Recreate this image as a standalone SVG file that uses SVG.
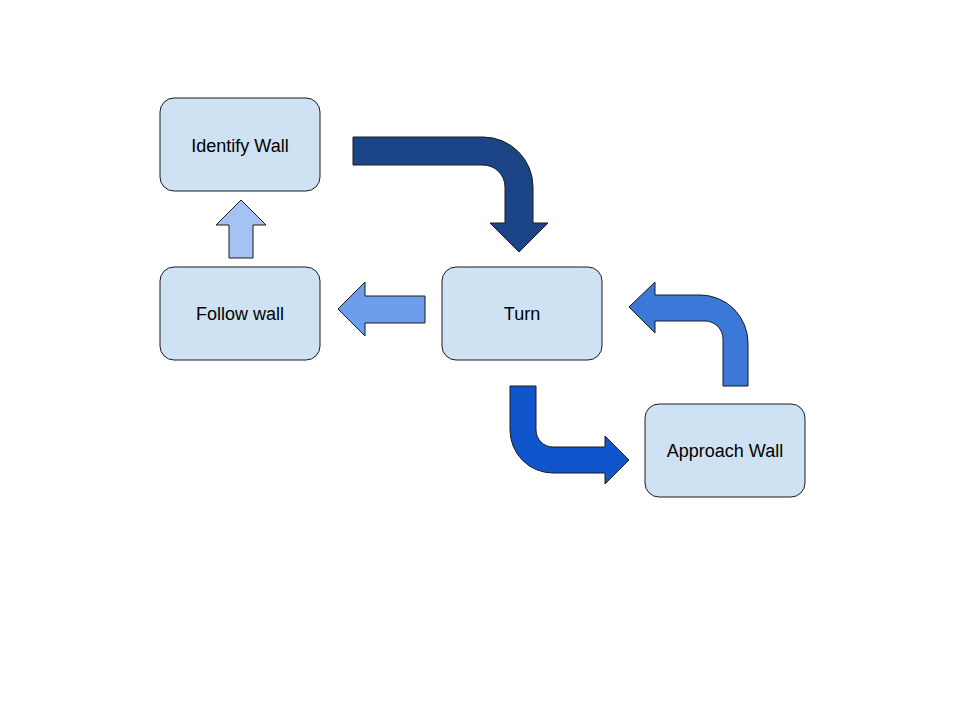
<svg xmlns="http://www.w3.org/2000/svg" width="960" height="720" viewBox="0 0 960 720">
<style>
.box{fill:#cfe2f3;stroke:#1a1a1a;stroke-width:1}
.lbl{font-family:"Liberation Sans",Arial,sans-serif;font-size:18px;fill:#000;text-anchor:middle}
.arr{stroke:#1a1a1a;stroke-width:1;stroke-linejoin:miter}
</style>
<rect width="960" height="720" fill="#fff"/>
<g id="connectors">
<path id="a1" class="arr" fill="#1c4587" d="M353,137 L483,137 A50,50 0 0 1 533,187 L533,223 L548,223 L519,252 L490,223 L505,223 L505,187 A22,22 0 0 0 483,165 L353,165 Z"/>
<path id="a2" class="arr" fill="#a4c2f4" d="M229,258 L229,225 L216,225 L241,200 L266,225 L253,225 L253,258 Z"/>
<path id="a3" class="arr" fill="#6d9eeb" d="M425,296 L365,296 L365,282 L338,309 L365,336 L365,323 L425,323 Z"/>
<path id="a4" class="arr" fill="#1155cc" d="M510,386 L536,386 L536,430 A17,17 0 0 0 553,447 L605,447 L605,436 L629,460 L605,484 L605,473 L553,473 A43,43 0 0 1 510,430 Z"/>
<path id="a5" class="arr" fill="#3c78d8" d="M748,386 L723,386 L723,339 A18,18 0 0 0 705,321 L655,321 L655,333 L629,307 L655,282 L655,295 L700,295 A48,48 0 0 1 748,343 Z"/>
</g>
<g id="identify"><rect class="box" x="160" y="98" width="160" height="93" rx="14"/><text class="lbl" x="240" y="152">Identify Wall</text></g>
<g id="follow"><rect class="box" x="160" y="267" width="160" height="93" rx="14"/><text class="lbl" x="240" y="320">Follow wall</text></g>
<g id="turn"><rect class="box" x="442" y="267" width="160" height="93" rx="14"/><text class="lbl" x="522" y="320">Turn</text></g>
<g id="approach"><rect class="box" x="645" y="404" width="160" height="93" rx="14"/><text class="lbl" x="725" y="457">Approach Wall</text></g>
</svg>
